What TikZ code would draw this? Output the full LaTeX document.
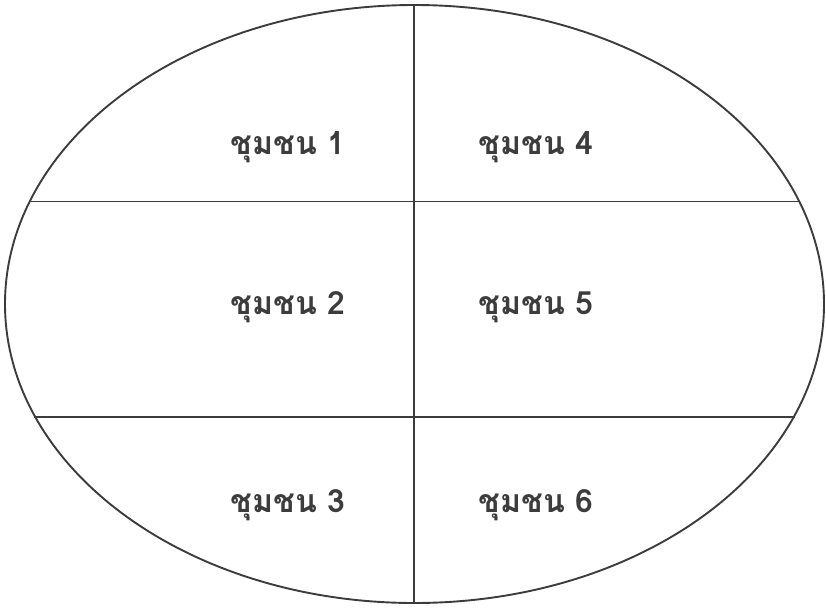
\documentclass[tikz,border=0pt]{standalone}
\usepackage{fontspec}
\usetikzlibrary{shapes.geometric}
\newfontfamily\thaifont[Script=Thai]{Loma}
\definecolor{ink}{HTML}{3C3C3C}
\begin{document}
\begin{tikzpicture}[x=1pt,y=-1pt,
  part/.style={draw=ink,line width=1.9pt},
  lbl/.style={anchor=base,text=ink,font=\thaifont\bfseries\fontsize{32}{33}\selectfont,inner sep=0pt}]
\useasboundingbox (0,0) rectangle (826,608);
\node[part,ellipse,minimum width=819pt,minimum height=598pt,inner sep=0pt] (ell) at (414.5,304) {};
\coordinate (vt) at (414,5);
\coordinate (vb) at (414,603);
\draw[part] (vt) -- (vb);
\coordinate (h1l) at (30.5,201.5);
\coordinate (h1r) at (798.5,201.5);
\coordinate (h2l) at (34,417);
\coordinate (h2r) at (795,417);
\draw[part] (h1l) -- (h1r);
\draw[part] (h2l) -- (h2r);
\node[lbl] (c1) at (288,154) {ชุมชน 1};
\node[lbl] (c2) at (288,314) {ชุมชน 2};
\node[lbl] (c3) at (288,512) {ชุมชน 3};
\node[lbl] (c4) at (536,154) {ชุมชน 4};
\node[lbl] (c5) at (536,314) {ชุมชน 5};
\node[lbl] (c6) at (536,512) {ชุมชน 6};
\end{tikzpicture}
\end{document}
